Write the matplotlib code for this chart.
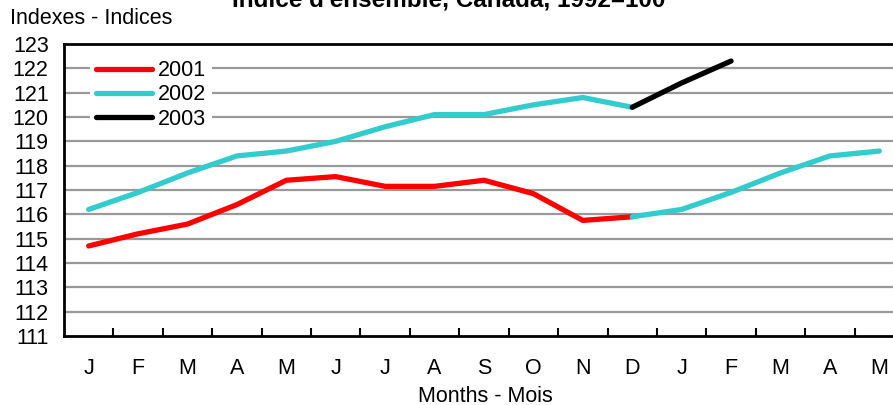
import matplotlib.pyplot as plt
import numpy as np

plt.rcParams['font.family'] = ['Liberation Sans', 'DejaVu Sans']

months = ["J", "F", "M", "A", "M", "J", "J", "A", "S", "O", "N", "D",
          "J", "F", "M", "A", "M"]
cpi_2001 = [114.7, 115.2, 115.6, 116.4, 117.4, 117.55, 117.15, 117.15, 117.4, 116.85, 115.75, 115.9]
cpi_2002 = [116.2, 116.9, 117.7, 118.4, 118.6, 119.0, 119.6, 120.1, 120.1, 120.5, 120.8, 120.4]
cpi_2003 = [121.4, 122.3]

fig = plt.figure(figsize=(8.93, 4.05), dpi=100)
ax = fig.add_axes([64 / 893, 69 / 405, 840 / 893, 292 / 405])

x = np.arange(len(months))
lw = 3.8
fs = 15.5
# first year of each window
ax.plot(x[:12], cpi_2001, color="#ff0000", lw=lw, solid_capstyle="round", label="2001", zorder=3)
ax.plot(x[:12], cpi_2002, color="#33cccc", lw=lw, solid_capstyle="round", label="2002", zorder=3)
# continuation into the next year
ax.plot(x[11:11 + len(cpi_2003) + 1], [cpi_2002[-1]] + cpi_2003, color="black", lw=lw,
        solid_capstyle="round", label="2003", zorder=3)
ax.plot(x[11:], [cpi_2001[-1]] + cpi_2002[:len(months) - 12], color="#33cccc", lw=lw,
        solid_capstyle="round", zorder=3)

ax.set_xlim(-0.5, len(months) - 0.5)
ax.set_ylim(111, 123)
ax.set_yticks(range(111, 124))
ax.set_xticks(x)
ax.set_xticklabels(months)
ax.set_xticks(np.arange(0.5, len(months) - 1, 1), minor=True)
ax.tick_params(axis="y", length=0, pad=11, labelsize=fs)
ax.tick_params(axis="x", which="major", length=0, pad=16, labelsize=fs)
ax.tick_params(axis="x", which="minor", direction="in", length=6, width=1.5, color="black")

for v in range(112, 123):
    ax.axhline(v, color="#999999", lw=1.6, zorder=1)

for s in ax.spines.values():
    s.set_linewidth(2)
    s.set_color("black")

leg = ax.legend(loc="upper left", bbox_to_anchor=(0.018, 1.004), fontsize=fs, frameon=True,
                handlelength=2.6, handletextpad=0.25, labelspacing=0.15, borderpad=0.3)
leg.get_frame().set_edgecolor("none")
leg.get_frame().set_facecolor("white")
leg.get_frame().set_alpha(1)

fig.text(10 / 893, 1 - 18 / 405, "Indexes - Indices", fontsize=fs, ha="left", va="center")
fig.text(449 / 893, 1 - 6 / 405, "Indice d'ensemble, Canada, 1992=100", fontsize=17.5,
         fontweight="bold", ha="center", va="baseline")
fig.text(485 / 893, 1 - 396 / 405, "Months - Mois", fontsize=fs, ha="center", va="center")

fig.savefig("out.png", dpi=100)
